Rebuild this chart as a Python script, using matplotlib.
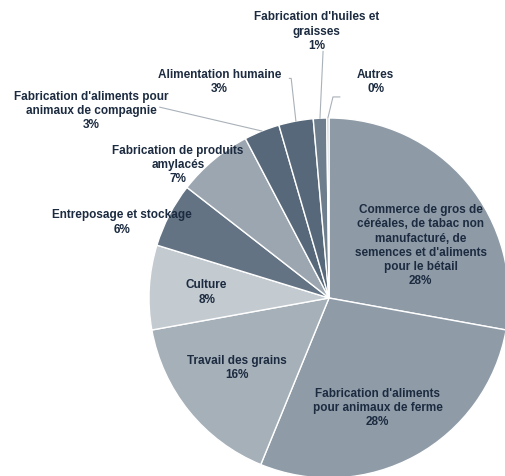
import numpy as np
import matplotlib
matplotlib.use("Agg")
import matplotlib.pyplot as plt

# slice data, clockwise from 12 o'clock
labels = [
    "Commerce de gros de\ncéréales, de tabac non\nmanufacturé, de\nsemences et d'aliments\npour le bétail",
    "Fabrication d'aliments\npour animaux de ferme",
    "Travail des grains",
    "Culture",
    "Entreposage et stockage",
    "Fabrication de produits\namylacés",
    "Fabrication d'aliments pour\nanimaux de compagnie",
    "Alimentation humaine",
    "Fabrication d'huiles et\ngraisses",
    "Autres",
]
values = [27.9, 28.4, 16.0, 7.6, 5.8, 6.8, 3.2, 3.1, 1.2, 0.2]
pct_text = ["28%", "28%", "16%", "8%", "6%", "7%", "3%", "3%", "1%", "0%"]

colors = ["#8e9ba7", "#8f9ca8", "#a6b0b9", "#c3cad0", "#637384",
          "#9ba6b0", "#56687a", "#56687a", "#6e7e8d", "#b6bec6"]

# label anchor (pie radius units) and optional leader line elbow
label_pos = [(0.51, 0.29), (0.27, -0.61), (-0.51, -0.39), (-0.68, 0.03),
             (-1.15, 0.42), (-0.84, 0.74), (-1.32, 1.04), (-0.61, 1.20),
             (-0.07, 1.48), (0.26, 1.20)]
leaders = {
    6: [(-0.94, 1.06)],
    7: [(-0.22, 1.22), (-0.21, 1.22)],
    8: [(-0.033, 1.37)],
    9: [(0.06, 1.117), (0.022, 1.117)],
}

TEXT = "#1c2b40"

fig = plt.figure(figsize=(5.06, 4.76), dpi=100)
ax = fig.add_axes([0, 0, 1, 1])

wedges, _ = ax.pie(values, startangle=90, counterclock=False, colors=colors,
                   wedgeprops=dict(edgecolor="white", linewidth=1.0))

for i, w in enumerate(wedges):
    x, y = label_pos[i]
    ax.text(x, y, labels[i] + "\n" + pct_text[i], ha="center", va="center",
            fontsize=8.5, fontweight="bold", color=TEXT,
            family="Liberation Sans", linespacing=1.25)
    if i in leaders:
        mid = np.deg2rad((w.theta1 + w.theta2) / 2)
        pts = leaders[i] + [(np.cos(mid), np.sin(mid))]
        xs, ys = zip(*pts)
        ax.plot(xs, ys, color="#a9b1b9", lw=0.8)

ax.set_xlim(-329 / 180, 177 / 180)
ax.set_ylim(-178 / 180, 298 / 180)
ax.set_aspect("auto")
ax.axis("off")

fig.savefig("out.png", dpi=100)
